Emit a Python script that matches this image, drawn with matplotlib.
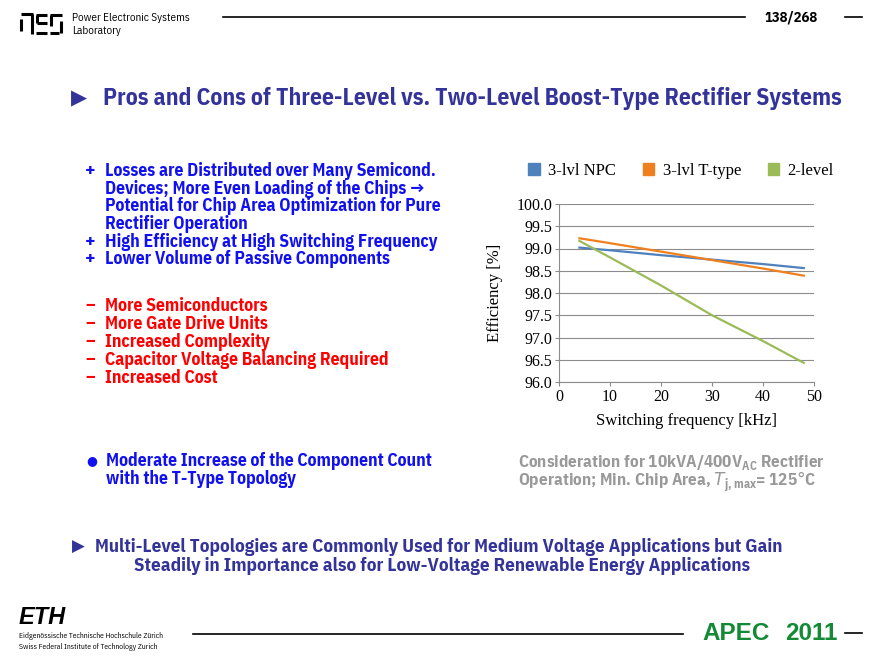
import matplotlib
matplotlib.use("Agg")
import matplotlib.pyplot as plt
from matplotlib.patches import Patch
from matplotlib.lines import Line2D

W, H = 886, 659

# chart data
freq_khz = [4, 10, 20, 30, 40, 48]
eff_npc = [99.02, 98.96, 98.85, 98.75, 98.65, 98.56]
eff_ttype = [99.23, 99.12, 98.93, 98.74, 98.55, 98.39]
eff_2lvl = [99.17, 98.80, 98.17, 97.50, 96.92, 96.43]
series_names = ["3-lvl NPC", "3-lvl T-type", "2-level"]
series_colors = ["#4F81BD", "#F0801E", "#9BBB59"]
y_ticks = [96.0, 96.5, 97.0, 97.5, 98.0, 98.5, 99.0, 99.5, 100.0]
x_ticks = [0, 10, 20, 30, 40, 50]

pros = [
    ("+", "Losses are Distributed over Many Semicond."),
    ("", "Devices; More Even Loading of the Chips \u2192"),
    ("", "Potential for Chip Area Optimization for Pure"),
    ("", "Rectifier Operation"),
    ("+", "High Efficiency at High Switching Frequency"),
    ("+", "Lower Volume of Passive Components"),
]
cons = [
    "More Semiconductors",
    "More Gate Drive Units",
    "Increased Complexity",
    "Capacitor Voltage Balancing Required",
    "Increased Cost",
]

SANS = ["IBM Plex Sans Condensed", "DejaVu Sans"]
SERIF = ["Liberation Serif", "DejaVu Serif"]
TITLE_COL = "#333399"
BLUE = "#1010F0"
RED = "#FF0000"
GRAY = "#999999"


def px(x, y):
    return x / W, 1 - y / H


def ftext(x, y, s, **kw):
    kw.setdefault("family", SANS)
    kw.setdefault("va", "center")
    fig.text(*px(x, y), s, **kw)


def fline(x0, y0, x1, y1, **kw):
    kw.setdefault("color", "black")
    kw.setdefault("lw", 1.0)
    fig.add_artist(Line2D([x0 / W, x1 / W], [1 - y0 / H, 1 - y1 / H],
                          transform=fig.transFigure, **kw))


fig = plt.figure(figsize=(W / 100, H / 100), dpi=100)
fig.patch.set_facecolor("white")

# ---- header ----
logo = [
    (21, 14, 33, 14), (32, 14, 32, 34), (21, 19, 21, 31),
    (36, 15, 47, 15), (37, 15, 37, 23), (37, 23, 47, 23), (36, 33, 47, 33),
    (50, 15, 62, 15), (51, 15, 51, 26), (61, 21, 61, 33), (50, 33, 59, 33),
]
for seg in logo:
    fline(*seg, lw=2.2, solid_capstyle="butt")
ftext(72, 18, "Power Electronic Systems", fontsize=8)
ftext(72, 31, "Laboratory", fontsize=8)
fline(223, 17, 745, 17, lw=1.2)
ftext(791, 17, "138/268", fontsize=10.5, weight="bold", ha="center")
fline(845, 17, 862, 17, lw=1.2)

# ---- title ----
ftext(71, 98, "\u25B6", fontsize=15, color=TITLE_COL, family=["DejaVu Sans"])
ftext(103, 98, "Pros and Cons of Three-Level vs. Two-Level Boost-Type Rectifier Systems",
      fontsize=17, weight="bold", color=TITLE_COL)

# ---- pros / cons ----
y = 171
for mark, line in pros:
    if mark:
        ftext(85, y, mark, fontsize=14, weight="bold", color=BLUE)
    ftext(105, y, line, fontsize=12.7, weight="bold", color=BLUE)
    y += 17.7

y = 306
for line in cons:
    ftext(85, y, "\u2013", fontsize=13, weight="bold", color=RED)
    ftext(105, y, line, fontsize=12.7, weight="bold", color=RED)
    y += 18

ftext(86, 461, "\u25CF", fontsize=9, color=BLUE, family=["DejaVu Sans"])
ftext(106, 461, "Moderate Increase of the Component Count", fontsize=12.7,
      weight="bold", color=BLUE)
ftext(106, 479, "with the T-Type Topology", fontsize=12.7, weight="bold", color=BLUE)

ftext(518, 462, r"Consideration for 10kVA/400V$_{\mathregular{AC}}$ Rectifier",
      fontsize=12.3, weight="bold", color=GRAY)
ftext(518, 482, r"Operation; Min. Chip Area, $T_{\mathregular{j,max}}$= 125$\degree$C",
      fontsize=12.3, weight="bold", color=GRAY)

# ---- bottom statement ----
ftext(72, 547, "\u25B6", fontsize=12, color=TITLE_COL, family=["DejaVu Sans"])
ftext(95, 547, "Multi-Level Topologies are Commonly Used for Medium Voltage Applications but Gain",
      fontsize=13.7, weight="bold", color=TITLE_COL)
ftext(134, 566, "Steadily in Importance also for Low-Voltage Renewable Energy Applications",
      fontsize=13.7, weight="bold", color=TITLE_COL)

# ---- footer ----
ftext(19, 617, "ETH", fontsize=17, weight="bold", style="italic",
      family=["Liberation Sans", "DejaVu Sans"])
ftext(19, 636, "Eidgen\u00f6ssische Technische Hochschule Z\u00fcrich", fontsize=5.5)
ftext(19, 647, "Swiss Federal Institute of Technology Zurich", fontsize=5.5)
fline(193, 634, 683, 634, lw=1.2)
ftext(702, 633, "APEC", fontsize=17.5, weight="bold", color="#138A36",
      family=["Liberation Sans", "DejaVu Sans"])
ftext(837, 633, "2011", fontsize=17.5, weight="bold", color="#138A36", ha="right",
      family=["Liberation Sans", "DejaVu Sans"])
fline(845, 633, 862, 633, lw=1.2)

# ---- chart ----
left, top, right, bottom = 559, 204, 814, 382
ax = fig.add_axes([left / W, 1 - bottom / H, (right - left) / W, (bottom - top) / H])
for vals, name, col in zip([eff_npc, eff_ttype, eff_2lvl], series_names, series_colors):
    ax.plot(freq_khz, vals, color=col, lw=1.6, label=name)

ax.set_xlim(0, 50)
ax.set_ylim(96.0, 100.0)
ax.set_xticks(x_ticks)
ax.set_yticks(y_ticks)
ax.set_yticklabels([f"{v:.1f}" for v in y_ticks], family=SERIF, fontsize=11.5)
ax.set_xticklabels([str(v) for v in x_ticks], family=SERIF, fontsize=11.5)
ax.grid(axis="y", color="#8C8C8C", lw=0.8)
ax.set_axisbelow(True)
for side in ["top", "right"]:
    ax.spines[side].set_visible(False)
for side in ["left", "bottom"]:
    ax.spines[side].set_color("#8C8C8C")
ax.tick_params(axis="both", color="#8C8C8C", length=3, pad=2)
ax.set_xlabel("Switching frequency [kHz]", family=SERIF, fontsize=12)
ax.set_ylabel("Efficiency [%]", family=SERIF, fontsize=12)
ax.xaxis.set_label_coords(0.5, (382 - 413) / (bottom - top), transform=ax.transAxes)
ax.yaxis.set_label_coords((503 - left) / (right - left), 0.5, transform=ax.transAxes)

handles = [Patch(color=c, label=n) for c, n in zip(series_colors, series_names)]
ax.legend(handles=handles, loc="center", bbox_to_anchor=(px(681, 171)),
          bbox_transform=fig.transFigure, ncol=3, frameon=False,
          prop={"family": SERIF, "size": 12}, handlelength=0.7,
          handleheight=0.7, handletextpad=0.5, columnspacing=1.6)

fig.savefig("out.png", dpi=100)
